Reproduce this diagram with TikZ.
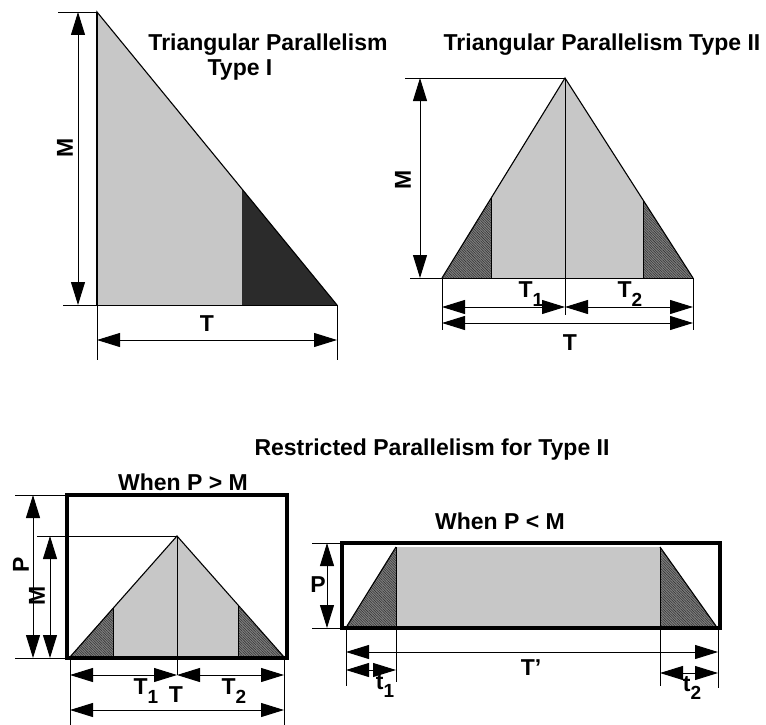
\documentclass[tikz,border=0pt]{standalone}
\usepackage{fontspec}
\setmainfont{Liberation Sans}
\usetikzlibrary{arrows.meta,patterns.meta}
\definecolor{lightfill}{gray}{0.78}
\definecolor{darkfill}{gray}{0.17}
\definecolor{hatchbg}{gray}{0.50}
\newcommand\subx[1]{\raisebox{-0.7ex}{\fontsize{19}{19}\selectfont #1}}
\begin{document}
\begin{tikzpicture}[x=1pt,y=-1pt,
  every node/.style={font=\fontsize{23}{25}\selectfont\bfseries, inner sep=0pt},
  dim/.style={line width=0.9pt, {Triangle[length=23pt,width=14pt]}-{Triangle[length=23pt,width=14pt]}},
  ext/.style={line width=0.8pt},
  outline/.style={line width=1.1pt, line join=miter},
  boxline/.style={line width=4pt},
  sep/.style={line width=0.7pt},
  hatch/.style={preaction={fill=hatchbg}, pattern={Lines[angle=-45,distance=1.8pt,line width=0.55pt]}, pattern color=black!80},
  grayfill/.style={fill=lightfill}]
\useasboundingbox (0,0) rectangle (766,725);

% ---------------- Type I ----------------
\coordinate (A1) at (97,12);
\coordinate (B1) at (97,305);
\coordinate (C1) at (337,305);
\coordinate (D1) at (242,189);
\coordinate (E1) at (242,305);
\coordinate (A1x) at (58,12);
\coordinate (B1x) at (63,305);
\coordinate (M1a) at (78,12);
\coordinate (M1b) at (78,305);
\coordinate (B1d) at (97,360);
\coordinate (C1d) at (337,360);
\coordinate (T1a) at (97,340);
\coordinate (T1b) at (337,340);
\fill[lightfill] (A1) -- (B1) -- (E1) -- (D1) -- cycle;
\fill[darkfill] (D1) -- (E1) -- (C1) -- cycle;
\draw[outline] (B1) -- (A1) -- (C1);
\draw[line width=1.6pt] (A1) -- (B1);
\draw[ext] (A1x) -- (A1);
\draw[ext] (B1x) -- (C1);
\draw[dim] (M1a) -- (M1b);
\draw[ext] (B1) -- (B1d);
\draw[ext] (C1) -- (C1d);
\draw[dim] (T1a) -- (T1b);
\node[rotate=90] (lM1) at (65,148) {M};
\node (lT1) at (207,324) {T};
\node (title1a) at (268,45) {Triangular Parallelism};
\node (title1b) at (240,70) {Type I};

% ---------------- Type II ----------------
\coordinate (A2) at (565,78);
\coordinate (L2) at (442,278);
\coordinate (R2) at (693,278);
\coordinate (HL2t) at (491,198);
\coordinate (HL2b) at (491,278);
\coordinate (HR2t) at (643,200);
\coordinate (HR2b) at (643,278);
\coordinate (A2x) at (405,78);
\coordinate (L2x) at (410,278);
\coordinate (C2d) at (565,315);
\coordinate (M2a) at (420,78);
\coordinate (M2b) at (420,278);
\coordinate (L2d) at (442,330);
\coordinate (R2d) at (693,330);
\coordinate (T2L) at (442,307);
\coordinate (T2C) at (565,307);
\coordinate (T2R) at (693,307);
\coordinate (T2La) at (442,323);
\coordinate (T2Ra) at (693,323);
\fill[lightfill] (HL2t) -- (A2) -- (HR2t) -- (HR2b) -- (HL2b) -- cycle;
\path[hatch] (L2) -- (HL2t) -- (HL2b) -- cycle;
\path[hatch] (HR2t) -- (R2) -- (HR2b) -- cycle;
\draw[sep] (HL2t) -- (HL2b);
\draw[sep] (HR2t) -- (HR2b);
\draw[outline] (L2) -- (A2) -- (R2);
\draw[ext] (L2x) -- (R2);
\draw[ext] (A2x) -- (A2);
\draw[ext] (A2) -- (C2d);
\draw[dim] (M2a) -- (M2b);
\draw[ext] (L2) -- (L2d);
\draw[ext] (R2) -- (R2d);
\draw[dim] (T2L) -- (T2C);
\draw[dim] (T2C) -- (T2R);
\draw[dim] (T2La) -- (T2Ra);
\node[rotate=90] (lM2) at (403,180) {M};
\node (lT21) at (531,294) {T\subx{1}};
\node (lT22) at (630,294) {T\subx{2}};
\node (lT2) at (570,343) {T};
\node (title2) at (602,45) {Triangular Parallelism Type II};

% ---------------- Restricted ----------------
\node (title3) at (432,450) {Restricted Parallelism for Type II};

% ---- P > M ----
\coordinate (BoxA1) at (67,495);
\coordinate (BoxA2) at (287,658);
\coordinate (A3) at (177,536);
\coordinate (L3) at (70,657);
\coordinate (R3) at (284,657);
\coordinate (HL3t) at (113,608);
\coordinate (HL3b) at (113,657);
\coordinate (HR3t) at (238,606);
\coordinate (HR3b) at (238,657);
\coordinate (C3d) at (177,675);
\coordinate (P3x) at (15,495);
\coordinate (M3x) at (37,536);
\coordinate (B3x) at (15,658);
\coordinate (B3r) at (67,658);
\coordinate (P3a) at (33,495);
\coordinate (P3b) at (33,658);
\coordinate (M3a) at (50,536);
\coordinate (M3b) at (50,658);
\coordinate (L3d) at (70,725);
\coordinate (R3d) at (284,725);
\coordinate (T3L) at (70,675);
\coordinate (T3C) at (177,675);
\coordinate (T3R) at (284,675);
\coordinate (T3La) at (70,710);
\coordinate (T3Ra) at (284,710);
\fill[lightfill] (HL3t) -- (A3) -- (HR3t) -- (HR3b) -- (HL3b) -- cycle;
\path[hatch] (L3) -- (HL3t) -- (HL3b) -- cycle;
\path[hatch] (HR3t) -- (R3) -- (HR3b) -- cycle;
\draw[sep] (HL3t) -- (HL3b);
\draw[sep] (HR3t) -- (HR3b);
\draw[outline] (L3) -- (A3) -- (R3);
\draw[ext] (A3) -- (C3d);
\draw[boxline] (BoxA1) rectangle (BoxA2);
\draw[ext] (P3x) -- (BoxA1);
\draw[ext] (M3x) -- (A3);
\draw[ext] (B3x) -- (B3r);
\draw[dim] (P3a) -- (P3b);
\draw[dim] (M3a) -- (M3b);
\draw[ext] (L3) -- (L3d);
\draw[ext] (R3) -- (R3d);
\draw[dim] (T3L) -- (T3C);
\draw[dim] (T3C) -- (T3R);
\draw[dim] (T3La) -- (T3Ra);
\node[rotate=90] (lP3) at (21,565) {P};
\node[rotate=90] (lM3) at (37,596) {M};
\node (lT31) at (146,691) {T\subx{1}};
\node (lT3) at (176,695) {T};
\node (lT32) at (234,691) {T\subx{2}};
\node (when1) at (183,482) {When P > M};

% ---- P < M ----
\coordinate (BoxB1) at (342,543);
\coordinate (BoxB2) at (720,628);
\coordinate (L4) at (347,626);
\coordinate (HL4t) at (396,547);
\coordinate (HL4b) at (396,626);
\coordinate (HR4t) at (660,547);
\coordinate (HR4b) at (660,626);
\coordinate (R4) at (716,626);
\coordinate (P4x) at (312,543);
\coordinate (P4y) at (312,628);
\coordinate (B4l) at (342,628);
\coordinate (P4a) at (327,543);
\coordinate (P4b) at (327,628);
\coordinate (E4a) at (346,628);
\coordinate (E4b) at (396,628);
\coordinate (E4c) at (660,628);
\coordinate (E4d) at (718,628);
\coordinate (E4ad) at (346,686);
\coordinate (E4bd) at (396,682);
\coordinate (E4cd) at (660,686);
\coordinate (E4dd) at (718,688);
\coordinate (Tp1) at (346,652);
\coordinate (Tp2) at (718,652);
\coordinate (t1a) at (346,670);
\coordinate (t1b) at (396,670);
\coordinate (t2a) at (660,673);
\coordinate (t2b) at (718,673);
\fill[lightfill] (HL4t) rectangle (HR4b);
\path[hatch] (L4) -- (HL4t) -- (HL4b) -- cycle;
\path[hatch] (HR4t) -- (R4) -- (HR4b) -- cycle;
\draw[sep] (HL4t) -- (HL4b);
\draw[sep] (HR4t) -- (HR4b);
\draw[outline] (L4) -- (HL4t);
\draw[outline] (HR4t) -- (R4);
\draw[boxline] (BoxB1) rectangle (BoxB2);
\draw[ext] (P4x) -- (BoxB1);
\draw[ext] (P4y) -- (B4l);
\draw[dim] (P4a) -- (P4b);
\draw[ext] (E4a) -- (E4ad);
\draw[ext] (E4b) -- (E4bd);
\draw[ext] (E4c) -- (E4cd);
\draw[ext] (E4d) -- (E4dd);
\draw[dim] (Tp1) -- (Tp2);
\draw[dim] (t1a) -- (t1b);
\draw[dim] (t2a) -- (t2b);
\node (lP4) at (318,585) {P};
\node (lTp) at (531,668) {T’};
\node (lt1) at (385,686) {t\subx{1}};
\node (lt2) at (692,688) {t\subx{2}};
\node (when2) at (500,521) {When P < M};
\end{tikzpicture}
\end{document}
